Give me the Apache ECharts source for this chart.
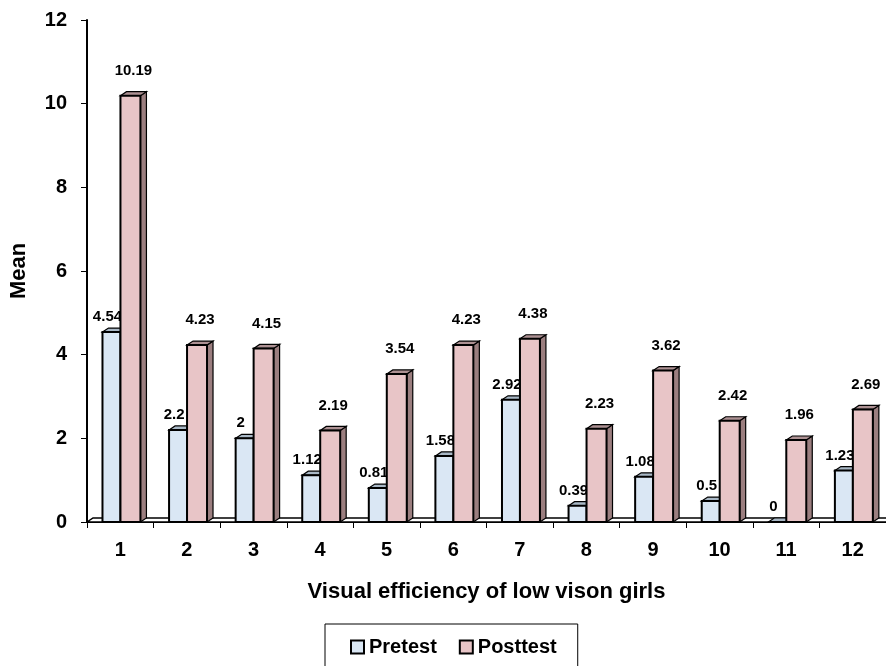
<!DOCTYPE html>
<html>
<head>
<meta charset="utf-8">
<script src="https://cdn.jsdelivr.net/npm/echarts@6/dist/echarts.min.js"></script>
<style>
html,body{margin:0;padding:0;background:#fff;}
#chart{width:886px;height:666px;}
</style>
</head>
<body>
<div id="chart"></div>
<script>
const categories = ['1','2','3','4','5','6','7','8','9','10','11','12'];
const pretest = [4.54, 2.2, 2, 1.12, 0.81, 1.58, 2.92, 0.39, 1.08, 0.5, 0, 1.23];
const posttest = [10.19, 4.23, 4.15, 2.19, 3.54, 4.23, 4.38, 2.23, 3.62, 2.42, 1.96, 2.69];
const yTicks = {min: 0, max: 12, interval: 2};

const FONT = '"Liberation Sans", Arial, sans-serif';
const DX = 6, DY = 4;

function barRenderer(f0, f1, colors, labelDx, labelDy) {
  return function (params, api) {
    const idx = api.value(0), v = api.value(1);
    const base = api.coord([idx, 0]);
    const top = api.coord([idx, v]);
    const bw = api.size([1, 0])[0];
    const bandStart = base[0] - bw / 2;
    const x0 = bandStart + bw * f0, x1 = bandStart + bw * f1;
    const yT = top[1], yB = base[1];
    return {
      type: 'group',
      children: [
        {type: 'polygon', shape: {points: [[x1, yB], [x1 + DX, yB - DY], [x1 + DX, yT - DY], [x1, yT]]},
         style: {fill: colors.side, stroke: '#000', lineWidth: 1.2}},
        {type: 'polygon', shape: {points: [[x0, yT], [x0 + DX, yT - DY], [x1 + DX, yT - DY], [x1, yT]]},
         style: {fill: colors.top, stroke: '#000', lineWidth: 1.2}},
        {type: 'rect', shape: {x: x0, y: yT, width: x1 - x0, height: yB - yT},
         style: {fill: colors.front, stroke: '#000', lineWidth: 2}},
        {type: 'text', style: {text: String(v), x: (x0 + x1) / 2 + labelDx, y: yT - labelDy,
          align: 'center', verticalAlign: 'middle', font: 'bold 15px ' + FONT, fill: '#000'}}
      ]
    };
  };
}

const preColors = {front: '#dae7f4', top: '#a9b8c6', side: '#9fb0c0'};
const postColors = {front: '#e8c5c7', top: '#ad9193', side: '#9b7e7f'};

const chart = echarts.init(document.getElementById('chart'), null, {renderer: 'canvas'});
chart.setOption({
  animation: false,
  backgroundColor: '#fff',
  grid: {left: 87, top: 20, width: 800, height: 502, containLabel: false},
  legend: {
    left: 325, top: 624,
    borderColor: '#000', borderWidth: 1,
    padding: [13, 21, 13, 25],
    itemGap: 22, itemWidth: 13, itemHeight: 13,
    textStyle: {fontFamily: FONT, fontWeight: 'bold', fontSize: 20, color: '#000'},
    data: [
      {name: 'Pretest', icon: 'rect', itemStyle: {color: preColors.front, borderColor: '#000', borderWidth: 2}},
      {name: 'Posttest', icon: 'rect', itemStyle: {color: postColors.front, borderColor: '#000', borderWidth: 2}}
    ]
  },
  xAxis: {
    type: 'category',
    data: categories,
    boundaryGap: true,
    name: 'Visual efficiency of low vison girls',
    nameLocation: 'middle',
    nameGap: 59,
    nameTextStyle: {fontFamily: FONT, fontWeight: 'bold', fontSize: 22, color: '#000'},
    axisLine: {lineStyle: {color: '#000', width: 2}},
    axisTick: {show: true, alignWithLabel: false, length: 6, lineStyle: {color: '#000', width: 1}},
    axisLabel: {margin: 18, fontFamily: FONT, fontWeight: 'bold', fontSize: 20, color: '#000'},
    splitLine: {show: false},
    z: 0
  },
  yAxis: {
    type: 'value',
    min: yTicks.min, max: yTicks.max, interval: yTicks.interval,
    name: 'Mean',
    nameLocation: 'middle',
    nameRotate: 90,
    nameGap: 57,
    nameTextStyle: {fontFamily: FONT, fontWeight: 'bold', fontSize: 22, color: '#000'},
    axisLine: {show: true, lineStyle: {color: '#000', width: 2}},
    axisTick: {show: true, length: 6, lineStyle: {color: '#000', width: 1}},
    axisLabel: {margin: 20, fontFamily: FONT, fontWeight: 'bold', fontSize: 20, color: '#000'},
    splitLine: {show: false}
  },
  series: [
    {
      type: 'custom',
      name: 'floor',
      silent: true,
      data: [[0, 0]],
      renderItem: function (params, api) {
        const cs = params.coordSys;
        const y = api.coord([0, 0])[1];
        const xa = cs.x, xb = cs.x + cs.width;
        return {type: 'polygon', shape: {points: [[xa, y], [xa + DX, y - DY], [xb + DX, y - DY], [xb, y]]},
          style: {fill: '#fff', stroke: '#000', lineWidth: 1.5}};
      },
      z: 1
    },
    {
      type: 'custom',
      name: 'Pretest',
      itemStyle: {color: preColors.front},
      data: pretest.map((v, i) => [i, v]),
      encode: {x: 0, y: 1},
      renderItem: barRenderer(0.2325, 0.5025, preColors, -4, 15),
      z: 2
    },
    {
      type: 'custom',
      name: 'Posttest',
      itemStyle: {color: postColors.front},
      data: posttest.map((v, i) => [i, v]),
      encode: {x: 0, y: 1},
      renderItem: barRenderer(0.5025, 0.8025, postColors, 3, 25),
      z: 3
    }
  ]
});
</script>
</body>
</html>
